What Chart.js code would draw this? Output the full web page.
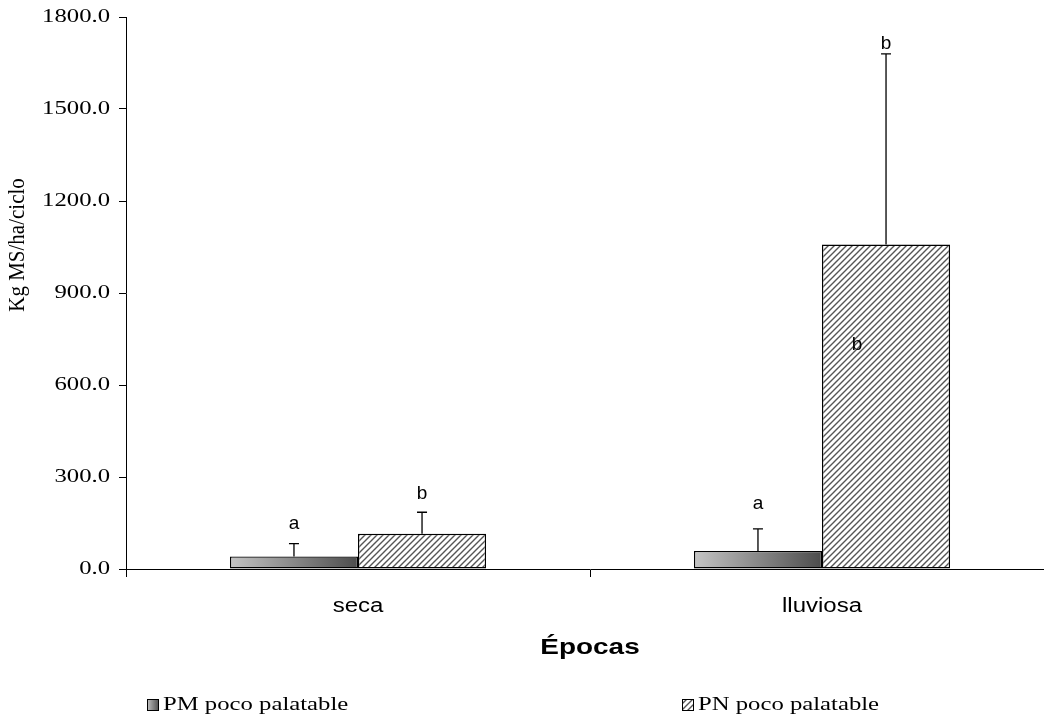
<!DOCTYPE html>
<html lang="es">
<head>
<meta charset="utf-8">
<title>Kg MS/ha/ciclo por época</title>
<script src="https://cdn.jsdelivr.net/npm/chart.js@4.4.1/dist/chart.umd.min.js"></script>
<style>
  html, body { margin: 0; padding: 0; background: #fff; overflow: hidden; }
  #wrap { position: relative; width: 1060px; height: 719px; }
</style>
</head>
<body>
<div id="wrap"><canvas id="chart"></canvas></div>
<script>
const epocas = ["seca", "lluviosa"];
const seriesNames = ["PM poco palatable", "PN poco palatable"];
const pmValues = [41, 59];
const pnValues = [115, 1058];
const pmErrors = [42, 72];
const pnErrors = [70, 622];
const pmLetters = ["a", "a"];
const pnLetters = ["b", "b"];
const yTicks = [0, 300, 600, 900, 1200, 1500, 1800];

const SERIF = "'Liberation Serif', 'Times New Roman', serif";
const SANS = "'Liberation Sans', Arial, sans-serif";

// diagonal hatch used by the PN bars and its legend swatch
function makeHatch() {
  const c = document.createElement("canvas");
  c.width = 6; c.height = 6;
  const g = c.getContext("2d");
  g.fillStyle = "#fff";
  g.fillRect(0, 0, 6, 6);
  g.strokeStyle = "#555";
  g.lineWidth = 1.4;
  g.beginPath();
  g.moveTo(-1, 7); g.lineTo(7, -1);
  g.moveTo(-4, 4); g.lineTo(4, -4);
  g.moveTo(2, 10); g.lineTo(10, 2);
  g.stroke();
  return g.createPattern(c, "repeat");
}
const hatch = makeHatch();

function shade(ctx, x0, x1) {
  const gr = ctx.createLinearGradient(x0, 0, x1, 0);
  gr.addColorStop(0, "#c4c4c4");
  gr.addColorStop(1, "#4c4c4c");
  return gr;
}

// horizontal grey shading per PM bar, worked out from the bar's own geometry
const barShading = {
  id: "barShading",
  beforeDatasetsDraw(chart) {
    chart.getDatasetMeta(0).data.forEach(bar => {
      bar.options.backgroundColor = shade(chart.ctx, bar.x - bar.width / 2, bar.x + bar.width / 2);
    });
  }
};

const errorBars = {
  id: "errorBars",
  afterDatasetsDraw(chart, args, opts) {
    const { ctx } = chart;
    const y = chart.scales.y;
    ctx.save();
    ctx.strokeStyle = "#000";
    ctx.lineWidth = 1.3;
    ctx.fillStyle = "#000";
    ctx.font = "19px " + SANS;
    ctx.textAlign = "center";
    ctx.textBaseline = "middle";
    chart.data.datasets.forEach((ds, di) => {
      chart.getDatasetMeta(di).data.forEach((bar, i) => {
        const top = y.getPixelForValue(ds.data[i] + ds.errors[i]);
        ctx.beginPath();
        ctx.moveTo(bar.x, bar.y);
        ctx.lineTo(bar.x, top);
        ctx.moveTo(bar.x - opts.cap, top);
        ctx.lineTo(bar.x + opts.cap, top);
        ctx.stroke();
        ctx.fillText(ds.letters[i], bar.x, top - opts.letterGap[di][i]);
      });
    });
    // second letter written inside the tall PN bar
    const ex = opts.inner;
    const bar = chart.getDatasetMeta(ex.ds).data[ex.i];
    ctx.fillText(chart.data.datasets[ex.ds].letters[ex.i], bar.x + ex.dx, y.getPixelForValue(ex.at));
    ctx.restore();
  }
};

// text set wider than the font's natural width
function wideText(ctx, text, x, y, align, stretch) {
  ctx.save();
  ctx.translate(x, y);
  ctx.scale(stretch, 1);
  ctx.textAlign = align;
  ctx.fillText(text, 0, 0);
  ctx.restore();
}

const axisTexts = {
  id: "axisTexts",
  afterDraw(chart) {
    const { ctx, chartArea } = chart;
    const xs = chart.scales.x;
    const ys = chart.scales.y;

    ctx.save();
    ctx.fillStyle = "#000";
    ctx.textBaseline = "middle";

    // y tick labels
    ctx.font = "19px " + SERIF;
    yTicks.forEach(v => wideText(ctx, v.toFixed(1), ys.right - 16, ys.getPixelForValue(v), "right", 1.3));

    // category labels and x title
    ctx.font = "20px " + SANS;
    epocas.forEach((name, i) => wideText(ctx, name, xs.getPixelForValue(i), xs.top + 37, "center", 1.2));
    ctx.font = "bold 22px " + SANS;
    wideText(ctx, "Épocas", (chartArea.left + chartArea.right) / 2, xs.top + 79, "center", 1.27);
    ctx.restore();

    // y axis title
    ctx.save();
    ctx.fillStyle = "#000";
    ctx.translate(18, 245);
    ctx.rotate(-Math.PI / 2);
    ctx.scale(1, 1.1);
    ctx.font = "21px " + SERIF;
    ctx.textAlign = "center";
    ctx.textBaseline = "middle";
    ctx.fillText("Kg MS/ha/ciclo", 0, 0);
    ctx.restore();

    // legend
    ctx.save();
    ctx.font = "19px " + SERIF;
    ctx.textBaseline = "middle";
    const items = [
      { x: 147, fill: shade(ctx, 147, 159) },
      { x: 682, fill: hatch }
    ];
    items.forEach((it, k) => {
      ctx.fillStyle = it.fill;
      ctx.fillRect(it.x, 699, 11, 11);
      ctx.strokeStyle = "#000";
      ctx.lineWidth = 1;
      ctx.strokeRect(it.x + 0.5, 699.5, 11, 11);
      ctx.fillStyle = "#000";
      wideText(ctx, seriesNames[k], it.x + 16, 705, "left", 1.3);
    });
    ctx.restore();
  }
};

new Chart(document.getElementById("chart"), {
  type: "bar",
  data: {
    labels: epocas,
    datasets: [
      { label: seriesNames[0], data: pmValues, errors: pmErrors, letters: pmLetters,
        backgroundColor: () => "#888" },
      { label: seriesNames[1], data: pnValues, errors: pnErrors, letters: pnLetters,
        backgroundColor: hatch }
    ]
  },
  options: {
    responsive: true,
    maintainAspectRatio: false,
    animation: false,
    events: [],
    layout: { padding: { top: 17, right: 6, bottom: 0, left: 0 } },
    datasets: {
      bar: {
        borderColor: "#000",
        borderWidth: 1.4,
        borderSkipped: false,
        categoryPercentage: 0.552,
        barPercentage: 1.0
      }
    },
    plugins: {
      legend: { display: false },
      tooltip: { enabled: false },
      errorBars: {
        cap: 5,
        letterGap: [[20, 25], [19, 10]],
        inner: { ds: 1, i: 1, at: 730, dx: -29 }
      }
    },
    scales: {
      x: {
        offset: true,
        grid: { drawOnChartArea: false, color: "#000", tickLength: 8, offset: true },
        border: { color: "#000", width: 1 },
        ticks: { display: false },
        afterFit(scale) { scale.height = 150; }
      },
      y: {
        min: 0, max: 1800,
        afterBuildTicks(scale) { scale.ticks = yTicks.map(v => ({ value: v })); },
        grid: { drawOnChartArea: false, color: "#000", tickLength: 7 },
        border: { color: "#000", width: 1 },
        ticks: { display: false },
        afterFit(scale) { scale.width = 126; }
      }
    }
  },
  plugins: [barShading, errorBars, axisTexts]
});
</script>
</body>
</html>
